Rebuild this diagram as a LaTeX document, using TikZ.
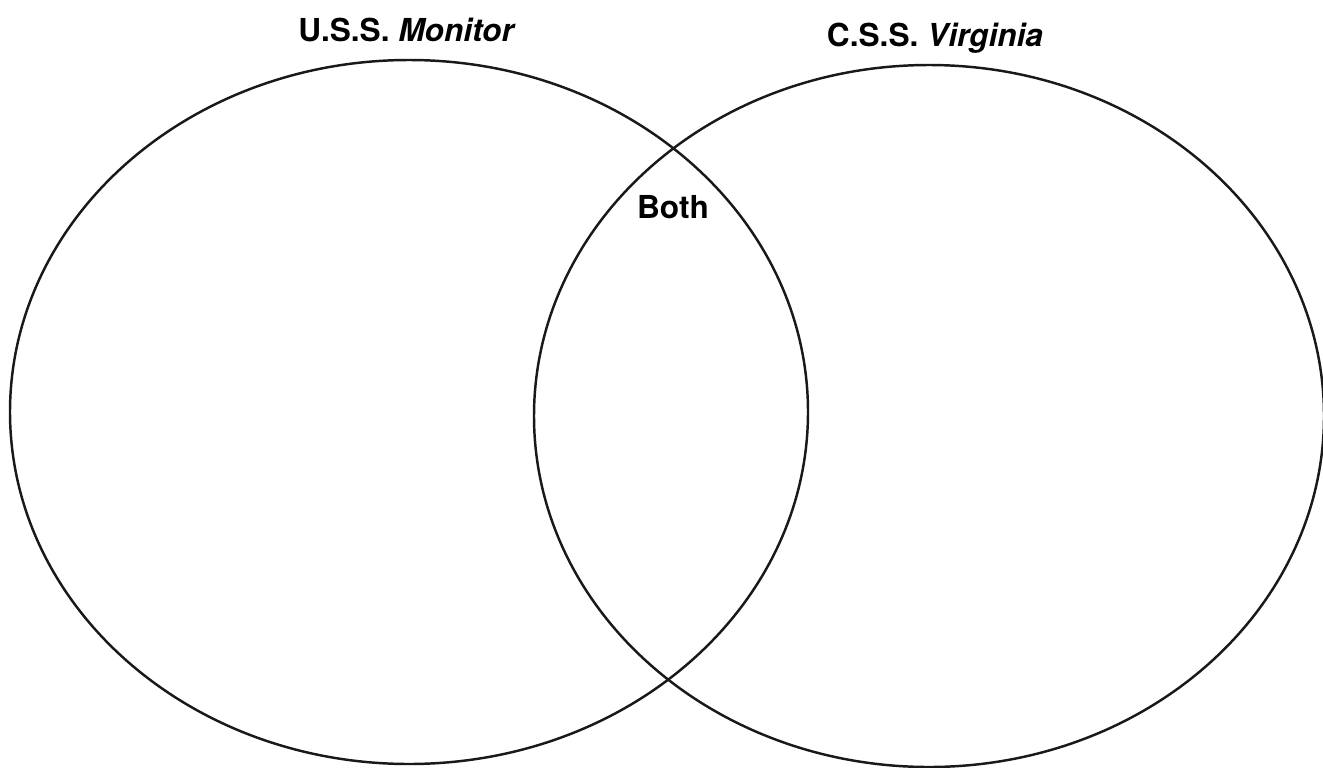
\documentclass[tikz,border=0pt]{standalone}
\usepackage{fontspec}
\setmainfont{TeX Gyre Heros}
\usetikzlibrary{positioning}

\begin{document}
\begin{tikzpicture}[x=0.02cm, y=-0.02cm,
  every node/.style={font=\fontsize{18}{21}\selectfont\bfseries},
  set/.style={draw=black!90, line width=1.4pt}]
  \useasboundingbox (0,0) rectangle (1323,768);
  % the two sets
  \draw[set] (409,412) ellipse [x radius=399, y radius=352];
  \draw[set] (929,416) ellipse [x radius=395, y radius=351];
  % labels
  \node (monitor) at (407,30) {U.S.S. \textit{Monitor}};
  \node (virginia) at (935,38) {C.S.S. \textit{Virginia}};
  \node (both) at (673,207) {Both};
\end{tikzpicture}
\end{document}
